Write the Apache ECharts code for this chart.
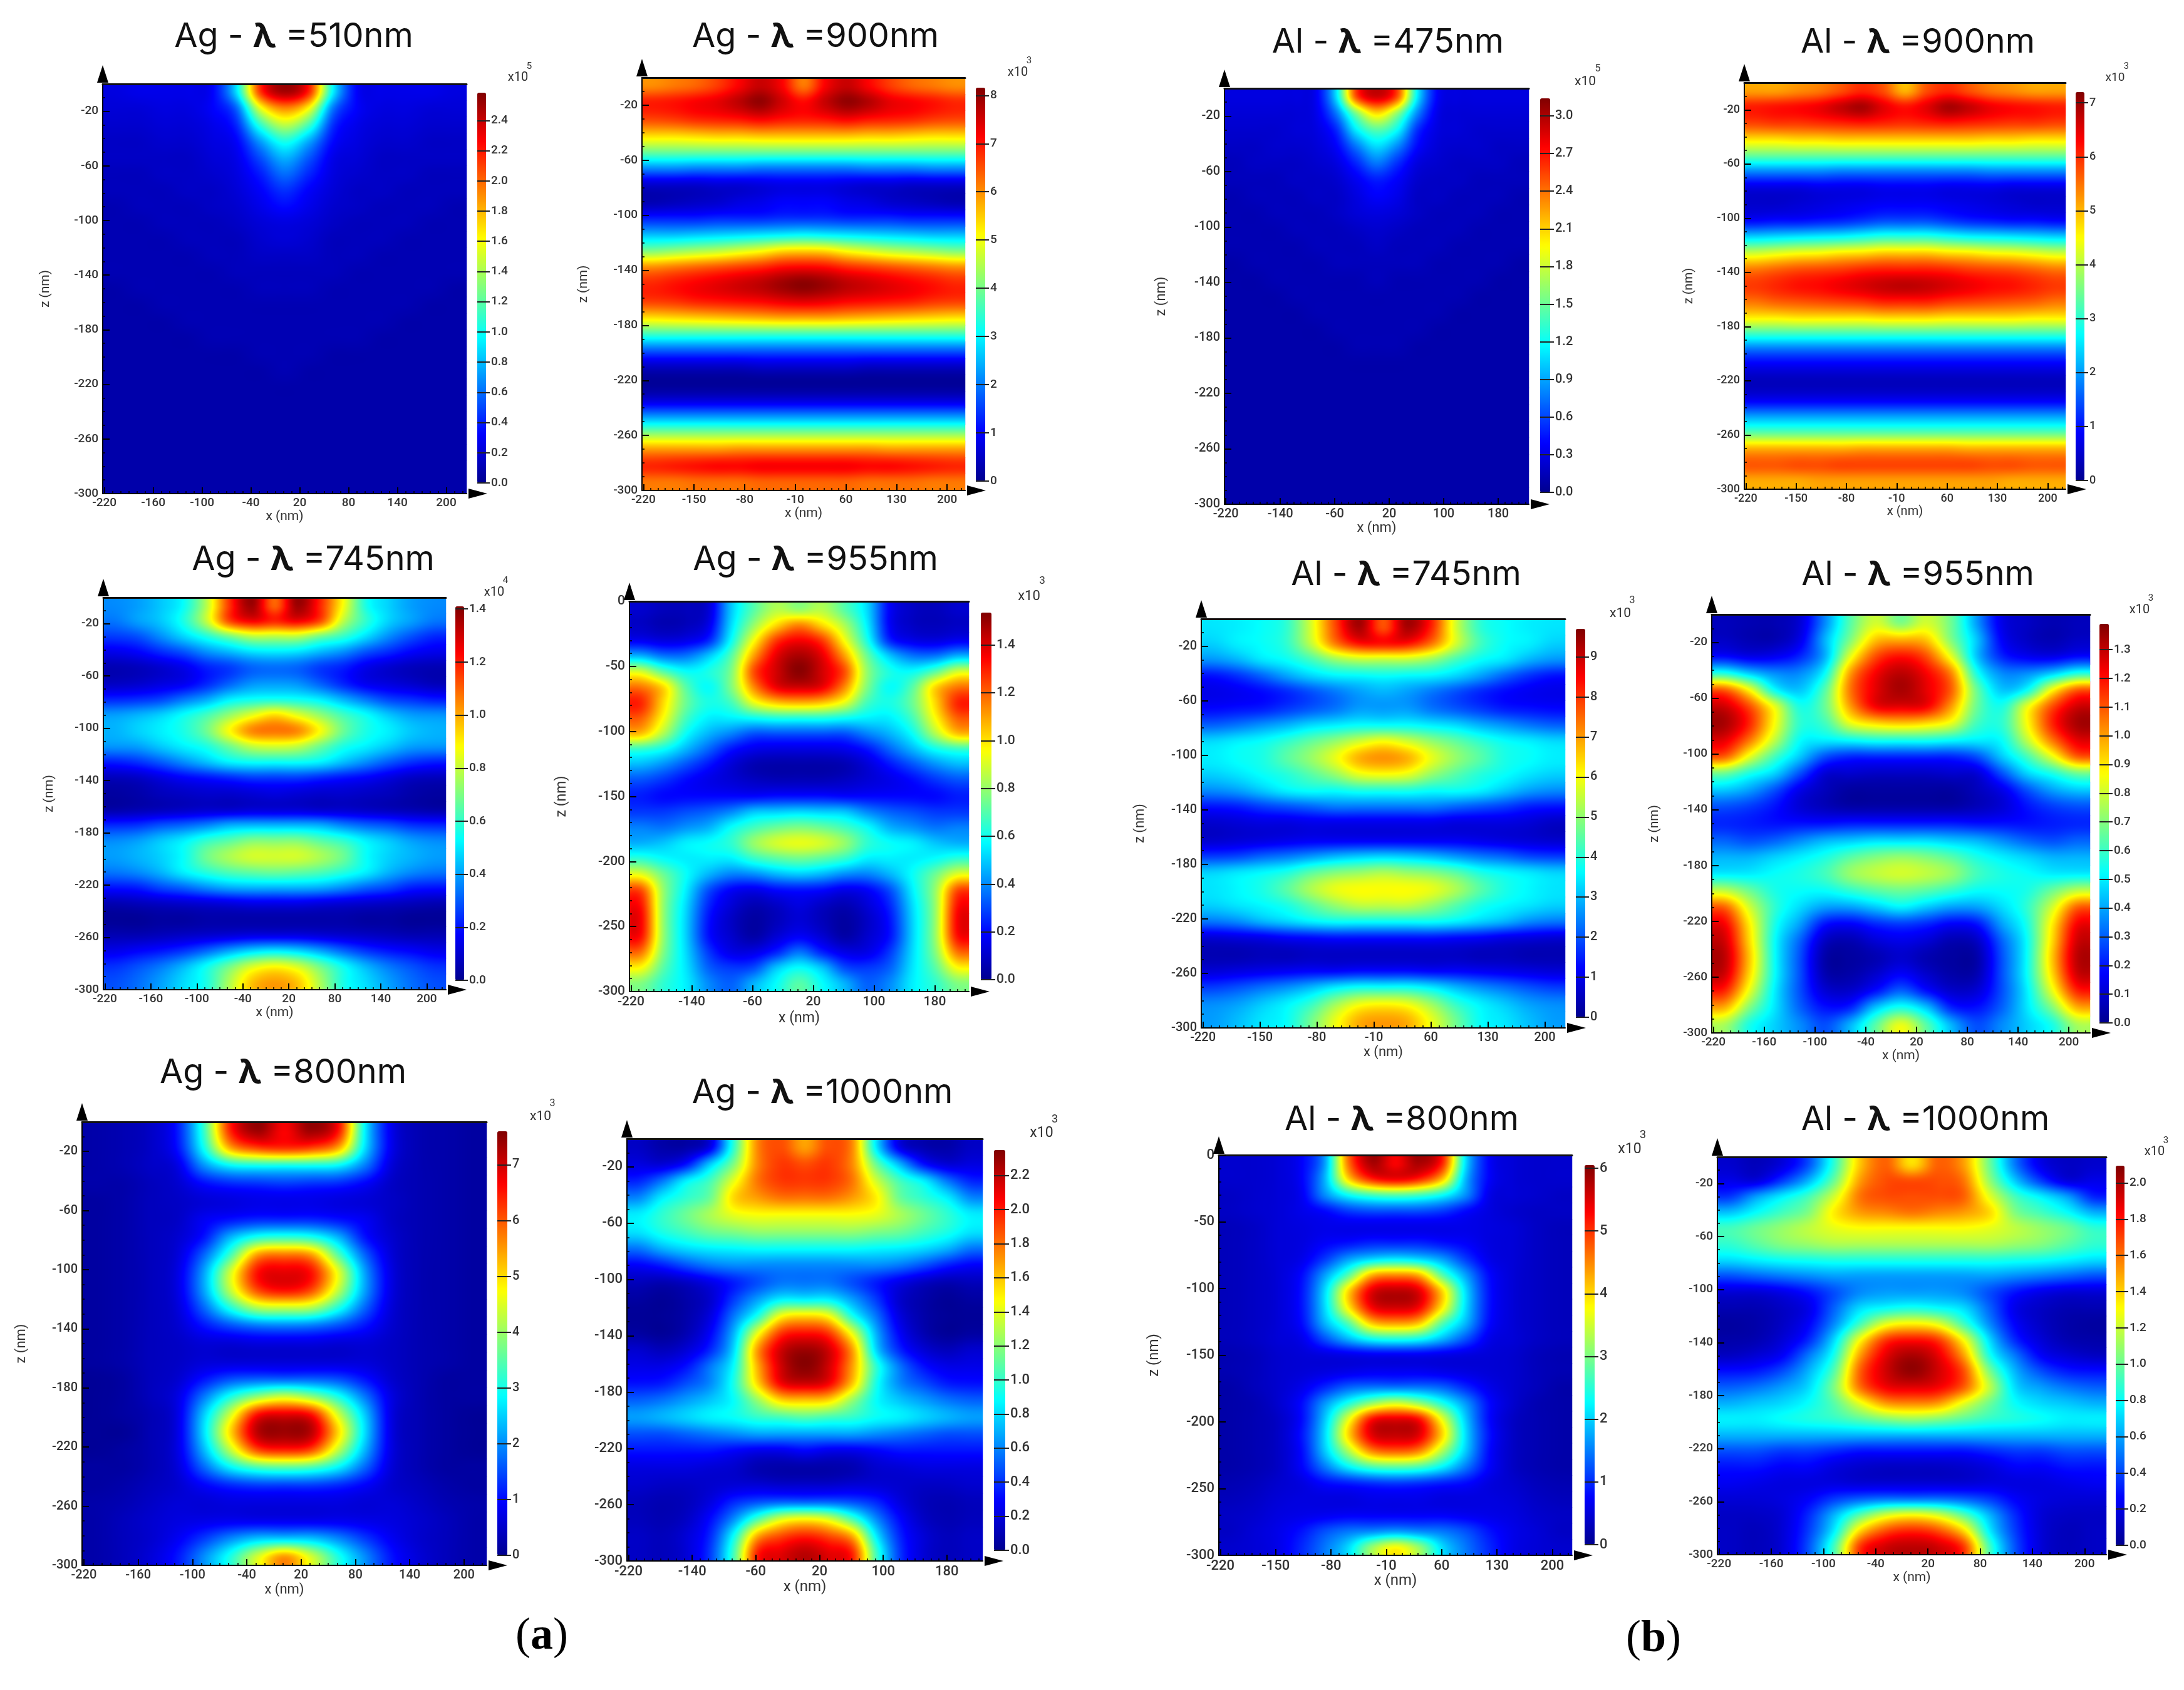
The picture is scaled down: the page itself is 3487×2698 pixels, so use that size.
<!DOCTYPE html>
<html><head><meta charset="utf-8">
<style>html,body{margin:0;padding:0;background:#fff}#c{width:3487px;height:2698px}</style>
<script src="https://cdn.jsdelivr.net/npm/echarts@6/dist/echarts.min.js"></script>
</head><body><div id="c"></div>
<script>
// Field values: percent of each panel's colour-scale top, 15 columns by 25 rows (top row first)
const xCells=['-207','-177','-147','-118','-88','-58','-28','1.5','31','61','91','121','150','180','210'];
const zCells=['-6','-18','-30','-42','-54','-66','-78','-90','-102','-114','-126','-138','-150','-162','-174','-186','-198','-210','-222','-234','-246','-258','-270','-282','-294'];
const ag510=[[9,10,10,10,12,34,82,96,84,36,12,10,10,10,9],[8,8,9,9,12,22,60,74,62,24,12,9,9,8,8],[7,7,8,8,10,16,42,56,44,17,10,8,8,7,7],[6,6,7,7,9,12,28,40,29,13,9,7,7,6,6],[6,6,6,6,8,10,20,30,21,10,8,6,6,6,6],[5,5,6,6,7,9,15,23,16,9,7,6,6,5,5],[5,5,5,6,6,8,12,17,12,8,6,6,5,5,5],[4,5,5,5,6,7,10,13,10,7,6,5,5,5,4],[4,4,5,5,5,6,8,9,8,6,5,5,5,4,4],[4,4,4,5,5,5,7,8,7,5,5,5,4,4,4],[4,4,4,4,5,5,6,6,6,5,5,4,4,4,4],[4,4,4,4,4,5,5,5,5,5,4,4,4,4,4],[3,4,4,4,4,4,5,5,5,4,4,4,4,4,3],[3,3,4,4,4,4,4,4,4,4,4,4,4,3,3],[3,3,3,4,4,4,4,4,4,4,4,4,3,3,3],[3,3,3,3,4,4,4,4,4,4,4,3,3,3,3],[3,3,3,3,3,3,4,4,4,3,3,3,3,3,3],[3,3,3,3,3,3,3,4,3,3,3,3,3,3,3],[3,3,3,3,3,3,3,3,3,3,3,3,3,3,3],[3,3,3,3,3,3,3,3,3,3,3,3,3,3,3],[3,3,3,3,3,3,3,3,3,3,3,3,3,3,3],[3,3,3,3,3,3,3,3,3,3,3,3,3,3,3],[3,3,3,3,3,3,3,3,3,3,3,3,3,3,3],[3,3,3,3,3,3,3,3,3,3,3,3,3,3,3],[3,3,3,3,3,3,3,3,3,3,3,3,3,3,3]];
const ag900=[[74,76,78,82,88,93,88,76,88,93,88,82,78,76,74],[85,86,88,90,94,98,92,87,93,98,95,90,88,86,84],[81,82,84,85,86,88,86,85,86,88,86,85,84,82,81],[66,66,67,68,68,69,69,69,69,69,68,68,67,66,66],[48,48,48,48,48,48,48,48,48,48,48,48,48,48,48],[26,26,25,25,25,24,24,24,24,24,25,25,25,26,26],[7,7,7,8,8,9,10,10,10,9,8,8,7,7,7],[4,5,6,7,9,10,12,12,12,10,9,7,6,5,4],[15,15,15,16,16,16,17,17,17,16,16,16,15,15,15],[31,31,32,33,34,35,36,37,36,35,34,33,32,31,31],[50,52,54,56,59,62,66,67,66,62,59,56,54,52,50],[74,76,78,80,82,84,87,88,87,84,82,80,78,76,74],[84,86,88,90,92,94,97,99,97,94,92,90,88,86,84],[82,83,85,86,87,88,90,91,90,88,87,86,85,83,82],[66,67,68,69,70,71,72,72,72,71,70,69,68,67,66],[44,44,44,44,44,44,44,44,44,44,44,44,44,44,44],[22,22,22,22,22,22,22,22,22,22,22,22,22,22,22],[6,6,6,6,6,7,7,7,7,7,6,6,6,6,6],[1,1,1,1,1,1,1,1,1,1,1,1,1,1,1],[8,8,8,8,8,8,8,8,8,8,8,8,8,8,8],[27,27,27,27,27,27,27,27,27,27,27,27,27,27,27],[50,50,50,50,50,50,50,50,50,50,50,50,50,50,50],[72,72,72,72,73,73,73,73,73,73,73,72,72,72,72],[84,85,86,87,87,88,88,88,88,88,87,87,86,85,84],[76,76,77,77,77,78,78,78,78,78,77,77,77,76,76]];
const al475=[[9,9,9,9,11,34,80,92,80,36,12,9,9,9,9],[8,8,8,8,10,24,50,66,52,26,10,8,8,8,8],[7,7,7,8,9,16,36,46,38,17,9,8,7,7,7],[6,6,7,7,8,12,24,34,26,13,8,7,7,6,6],[5,6,6,6,7,9,16,24,17,9,7,6,6,6,5],[5,5,5,6,6,7,11,15,12,7,6,6,5,5,5],[4,5,5,5,6,6,9,12,10,6,6,5,5,5,4],[4,4,5,5,5,6,8,9,8,6,5,5,5,4,4],[4,4,4,5,5,5,6,7,6,5,5,5,4,4,4],[4,4,4,4,5,5,5,6,5,5,5,4,4,4,4],[3,4,4,4,4,5,5,5,5,5,4,4,4,4,3],[3,3,4,4,4,4,4,5,4,4,4,4,4,3,3],[3,3,3,4,4,4,4,4,4,4,4,4,3,3,3],[3,3,3,3,4,4,4,4,4,4,4,3,3,3,3],[3,3,3,3,3,4,4,4,4,4,3,3,3,3,3],[3,3,3,3,3,3,4,4,4,3,3,3,3,3,3],[3,3,3,3,3,3,3,3,3,3,3,3,3,3,3],[3,3,3,3,3,3,3,3,3,3,3,3,3,3,3],[3,3,3,3,3,3,3,3,3,3,3,3,3,3,3],[3,3,3,3,3,3,3,3,3,3,3,3,3,3,3],[3,3,3,3,3,3,3,3,3,3,3,3,3,3,3],[3,3,3,3,3,3,3,3,3,3,3,3,3,3,3],[3,3,3,3,3,3,3,3,3,3,3,3,3,3,3],[3,3,3,3,3,3,3,3,3,3,3,3,3,3,3],[3,3,3,3,3,3,3,3,3,3,3,3,3,3,3]];
const al900=[[72,72,74,76,80,84,80,70,80,84,80,76,74,72,72],[85,86,87,89,93,96,90,86,90,96,93,89,87,86,85],[81,82,82,83,84,85,84,83,84,85,84,83,82,82,81],[65,65,66,66,67,67,67,67,67,67,67,66,66,65,65],[47,47,47,47,47,47,47,47,47,47,47,47,47,47,47],[25,25,25,25,24,24,24,24,24,24,24,25,25,25,25],[9,9,9,10,10,10,11,11,11,10,10,10,9,9,9],[7,7,8,9,10,11,12,12,12,11,10,9,8,7,7],[13,14,14,15,16,18,20,20,20,18,16,15,14,14,13],[34,35,36,37,38,40,42,42,42,40,38,37,36,35,34],[58,60,62,63,65,66,68,68,68,66,65,63,62,60,58],[76,78,80,81,82,84,85,85,85,84,82,81,80,78,76],[82,84,86,87,89,91,93,94,93,91,89,87,86,84,82],[76,78,79,80,81,82,84,84,84,82,81,80,79,78,76],[63,63,64,64,64,64,65,65,65,64,64,64,64,63,63],[42,42,42,42,42,42,42,42,42,42,42,42,42,42,42],[22,22,22,22,22,22,22,22,22,22,22,22,22,22,22],[10,10,10,10,10,10,10,10,10,10,10,10,10,10,10],[5,5,5,5,5,5,5,5,5,5,5,5,5,5,5],[11,11,11,11,11,11,11,11,11,11,11,11,11,11,11],[28,28,28,28,28,28,28,28,28,28,28,28,28,28,28],[46,46,46,46,46,46,46,46,46,46,46,46,46,46,46],[70,70,70,70,70,71,71,71,71,71,70,70,70,70,70],[79,79,80,80,81,81,81,81,81,81,81,80,80,79,79],[71,71,71,72,72,72,72,72,72,72,72,72,71,71,71]];
const ag745=[[26,28,32,38,55,82,97,78,97,84,62,40,33,28,26],[24,28,32,40,56,80,88,84,88,80,56,42,33,28,24],[18,20,26,33,40,48,55,55,55,48,42,34,26,20,16],[10,12,16,20,26,30,34,35,34,30,26,20,16,12,10],[4,5,7,10,15,18,22,23,22,18,15,10,7,5,4],[6,7,9,11,16,22,27,28,27,22,16,11,9,7,5],[16,17,19,24,29,36,39,40,39,36,30,24,19,17,15],[28,30,33,38,44,52,60,66,60,52,44,38,32,28,27],[30,33,36,40,48,62,74,76,74,62,48,40,36,32,30],[27,28,32,36,40,48,56,58,56,48,40,36,32,28,27],[15,17,21,26,31,36,38,38,38,36,31,26,21,17,15],[5,6,9,12,14,16,18,18,18,16,14,12,9,6,5],[2,3,5,6,7,7,8,9,8,7,7,6,5,3,2],[3,4,5,6,7,7,8,8,8,7,7,6,5,4,3],[16,17,20,22,25,29,30,30,30,29,25,22,20,17,16],[26,28,32,36,42,46,50,50,50,46,42,36,32,28,26],[28,30,33,38,48,54,58,58,58,54,48,38,33,30,28],[24,26,30,36,41,45,47,48,47,45,41,36,30,26,24],[14,15,19,22,26,29,30,30,30,29,26,22,19,15,14],[4,5,6,7,8,9,10,10,10,9,8,7,6,5,4],[1,1,2,2,3,3,3,3,3,3,3,2,2,1,1],[4,4,5,6,7,8,9,9,9,8,7,6,5,4,4],[10,12,14,17,22,28,33,35,33,28,22,17,14,12,10],[17,20,24,30,38,48,58,62,58,48,38,30,24,20,17],[20,23,28,34,40,54,68,72,68,54,40,34,28,23,20]];
const ag955=[[7,5,5,8,32,46,55,52,55,46,34,12,6,5,7],[6,4,5,10,34,52,66,74,66,54,36,12,6,5,6],[11,9,10,16,38,62,82,88,82,62,40,16,10,9,11],[30,24,24,32,46,72,90,96,90,72,48,32,24,24,30],[58,46,38,40,50,80,92,99,92,80,52,40,38,46,58],[76,66,46,38,50,74,89,92,89,74,50,38,46,66,76],[84,66,48,40,44,60,68,70,68,60,44,40,48,66,84],[78,62,44,36,36,38,40,40,40,38,36,36,44,62,78],[68,54,38,30,25,20,20,20,20,20,25,30,38,54,68],[42,38,30,22,14,10,9,9,9,10,14,22,30,38,42],[30,26,20,14,8,4,3,3,3,4,8,14,20,26,30],[20,17,13,10,8,6,5,5,5,6,8,10,13,17,20],[15,13,13,13,13,13,14,14,14,13,13,13,13,13,15],[18,18,20,22,26,32,33,34,33,32,26,22,20,18,18],[25,24,27,30,38,44,48,50,48,44,38,30,27,24,25],[30,32,36,38,42,52,58,60,58,52,42,38,36,32,30],[42,38,36,36,36,42,46,48,46,42,36,36,36,38,42],[60,48,38,30,25,26,30,32,30,26,25,30,38,48,60],[80,52,36,20,12,10,13,14,13,10,12,20,36,52,80],[86,52,34,16,8,4,6,9,6,4,8,16,34,52,86],[88,52,33,14,6,2,5,8,5,2,6,14,33,52,88],[86,52,33,14,7,3,8,12,8,3,7,14,33,52,86],[76,50,34,18,10,10,16,24,16,10,10,18,34,50,76],[62,46,35,22,18,20,32,38,32,20,18,22,35,46,62],[50,42,36,26,22,30,38,46,38,30,22,26,36,42,50]];
const al745=[[35,36,38,42,58,80,96,80,96,84,58,42,38,36,35],[33,36,38,42,56,75,86,86,86,76,58,44,38,36,33],[27,30,35,38,44,52,56,56,56,52,44,38,35,30,27],[14,17,22,28,33,36,37,38,37,36,33,28,22,17,14],[10,11,13,16,20,24,28,30,28,24,20,16,13,11,10],[13,14,15,18,21,24,28,28,28,24,21,18,15,14,13],[22,24,27,30,34,36,38,38,38,36,34,30,27,24,22],[34,36,38,42,47,52,58,62,58,52,47,42,38,36,34],[36,38,40,46,52,60,70,73,70,60,52,46,40,38,36],[33,35,38,41,46,52,60,62,60,52,46,41,38,35,33],[26,28,32,36,38,38,40,40,40,38,38,36,32,28,26],[14,15,18,20,22,24,24,24,24,24,22,20,18,15,14],[7,8,9,9,10,10,10,10,10,10,9,9,9,8,6],[7,8,9,10,11,11,11,11,11,11,11,10,9,8,7],[18,19,22,24,27,30,32,33,32,30,27,24,22,19,18],[33,35,37,40,46,50,52,54,52,50,46,40,37,35,33],[35,37,40,46,54,60,62,62,62,60,54,46,40,37,35],[33,35,37,40,46,52,56,56,56,52,46,40,37,35,33],[24,26,30,33,36,38,38,38,38,38,36,33,30,26,24],[8,9,10,12,13,14,14,14,14,14,13,12,10,9,8],[4,4,5,5,6,6,6,6,6,6,6,5,5,4,4],[8,9,10,11,12,12,13,13,13,12,12,11,10,9,8],[18,20,23,26,30,35,38,38,38,35,30,26,23,20,18],[26,28,32,36,42,52,60,62,60,52,42,36,32,28,26],[28,31,35,38,48,60,70,72,70,60,48,38,35,31,28]];
const al955=[[5,4,4,8,26,46,58,50,58,48,28,10,6,4,5],[6,4,4,10,30,50,68,70,68,50,32,12,6,4,6],[13,10,11,16,30,60,80,86,80,60,32,16,11,10,13],[40,32,26,26,38,72,88,94,88,74,40,26,26,32,40],[78,62,38,32,46,76,90,96,90,78,48,32,38,62,78],[92,80,60,40,48,72,88,90,88,72,48,40,60,80,92],[96,84,62,42,44,60,66,68,66,60,44,42,62,84,96],[90,76,56,38,36,38,40,40,40,38,36,38,56,76,90],[78,60,44,32,20,16,16,16,16,16,20,32,44,60,78],[48,40,33,20,8,7,6,6,6,7,8,20,33,40,48],[32,28,20,10,5,2,2,2,2,2,5,10,20,28,32],[20,18,14,8,5,3,3,3,3,3,5,8,14,18,20],[16,15,14,14,14,15,15,15,15,15,14,14,14,15,16],[22,20,22,26,30,32,34,34,34,32,30,26,22,20,22],[30,30,33,36,40,46,50,52,50,46,40,36,33,30,30],[36,36,38,40,44,52,56,58,56,52,44,40,38,36,36],[56,48,40,38,38,42,46,48,46,42,38,38,40,48,56],[78,58,42,34,28,28,32,36,32,28,28,34,42,58,78],[88,64,40,28,14,12,16,18,16,12,14,28,40,64,88],[92,66,38,22,6,4,8,10,8,4,6,22,38,66,92],[94,68,38,20,3,2,4,7,4,2,3,20,38,68,94],[92,66,38,20,4,3,7,12,7,3,4,20,38,66,92],[84,60,36,20,8,7,14,22,14,7,8,20,36,60,84],[70,50,35,22,14,16,32,40,32,16,14,22,35,50,70],[54,40,33,26,20,30,46,60,46,30,20,26,33,40,54]];
const ag800=[[3,4,6,14,42,84,97,88,97,86,36,10,4,3,2],[3,4,6,13,38,70,80,82,80,70,34,10,4,3,2],[3,4,6,9,26,36,38,38,38,36,24,8,4,3,2],[3,3,5,7,13,16,17,18,17,16,12,6,4,3,2],[2,3,5,6,8,9,10,10,10,9,8,6,4,3,2],[2,3,5,6,11,14,16,16,16,14,11,6,4,3,2],[2,3,5,7,14,30,40,42,40,30,14,7,4,3,2],[2,3,5,8,22,44,72,76,72,46,22,8,4,3,2],[2,3,5,9,28,58,86,90,86,60,28,9,4,3,2],[2,3,5,9,28,56,80,86,80,56,28,9,4,3,2],[2,3,5,8,22,40,54,56,54,40,22,8,4,3,2],[2,3,5,7,14,20,24,25,24,20,14,7,4,3,2],[2,3,5,6,8,8,9,9,9,8,8,6,4,3,2],[2,3,5,6,8,8,8,8,8,8,8,6,4,3,2],[1,2,5,7,14,20,22,22,22,20,14,7,4,2,2],[1,2,5,9,24,40,52,58,52,40,24,9,4,2,2],[1,2,4,9,32,58,86,90,86,58,32,9,4,2,1],[1,1,4,9,34,66,94,97,94,66,34,9,4,2,1],[1,2,4,9,30,56,80,84,80,56,30,9,4,2,1],[2,2,4,8,22,36,44,46,44,36,22,8,4,2,2],[2,3,5,7,12,16,18,18,18,16,12,7,5,3,2],[3,4,6,8,8,9,9,9,9,9,8,8,6,4,3],[3,5,7,9,10,11,11,11,11,11,10,9,7,5,3],[3,5,7,11,18,26,32,33,32,26,18,11,7,5,3],[3,5,8,14,26,40,58,72,58,40,26,14,8,5,3]];
const ag1000=[[6,3,3,10,42,74,80,72,80,74,36,10,4,3,6],[9,8,14,32,50,74,82,80,82,74,48,30,14,8,9],[16,24,36,44,60,76,82,82,82,76,58,44,36,24,16],[26,36,42,48,66,72,76,76,76,72,64,48,42,36,26],[36,42,48,54,60,62,62,62,62,62,60,54,48,42,36],[35,40,44,48,50,52,52,52,52,52,50,48,44,40,35],[24,30,34,36,37,38,38,38,38,38,37,36,34,30,24],[12,15,20,24,26,26,26,26,26,26,26,24,20,15,12],[5,4,6,10,15,20,24,24,24,20,15,10,6,4,5],[2,1,3,7,18,28,36,36,36,28,18,7,3,1,2],[1,1,3,9,24,40,62,66,62,40,24,9,3,1,1],[2,1,4,12,30,60,82,86,82,60,30,12,4,1,2],[7,5,8,16,34,72,92,97,92,72,34,16,8,5,7],[10,10,14,24,38,70,92,99,92,72,42,24,14,10,10],[14,15,20,26,40,66,88,92,88,68,40,26,20,15,14],[22,24,28,32,38,52,66,68,66,52,38,32,28,24,22],[28,30,33,36,38,42,44,46,44,42,38,36,33,30,28],[20,20,22,24,26,28,28,28,28,28,26,24,22,20,20],[14,14,14,14,12,10,10,12,10,10,12,14,14,14,14],[9,9,9,8,7,4,3,3,3,4,7,8,9,9,9],[7,6,6,7,8,8,7,7,7,8,8,7,6,6,7],[5,4,5,9,16,20,22,22,22,20,16,9,5,4,5],[5,4,6,13,26,44,58,62,58,44,26,13,6,4,5],[6,5,8,16,38,70,80,84,80,70,36,16,8,5,6],[6,5,8,18,44,84,90,94,90,84,44,18,8,5,6]];
const al800=[[7,7,8,12,28,76,96,88,96,84,34,12,8,7,7],[7,7,8,12,30,66,84,88,84,68,30,12,8,7,7],[6,7,8,11,26,38,44,46,44,38,26,10,8,7,6],[6,7,8,10,13,18,20,20,20,18,13,9,7,6,6],[5,6,8,9,10,10,10,10,10,10,10,9,8,6,5],[5,6,8,9,12,14,16,16,16,14,12,9,8,6,5],[5,6,8,10,18,28,34,36,34,28,18,10,8,6,5],[5,6,8,13,28,46,70,74,70,46,28,13,8,6,5],[5,6,8,14,34,66,90,94,90,66,34,14,8,6,5],[5,6,8,14,34,64,88,92,88,64,34,14,8,6,5],[5,6,8,13,30,46,68,72,68,46,30,13,8,6,5],[5,6,8,10,20,30,38,40,38,30,20,10,8,6,5],[4,5,7,8,9,10,11,11,11,10,9,8,7,5,4],[4,5,7,8,9,10,11,11,11,10,9,8,7,5,4],[3,5,7,10,16,22,24,24,24,22,16,10,7,5,3],[3,4,7,13,27,40,52,58,52,40,27,13,7,4,3],[3,4,6,13,32,60,86,90,86,60,32,13,6,4,3],[3,4,6,14,34,66,90,93,90,66,34,14,6,4,3],[3,4,6,13,32,54,74,78,74,54,32,13,6,4,3],[3,4,6,12,24,36,44,46,44,36,24,12,6,4,3],[4,5,7,9,13,15,17,18,17,15,13,9,7,5,4],[5,6,8,9,9,9,10,10,10,9,9,9,8,6,5],[6,7,9,10,11,12,12,12,12,12,11,10,9,7,6],[6,8,10,14,20,24,26,28,26,24,20,14,10,8,6],[7,8,10,16,24,34,52,62,52,34,24,16,10,8,7]];
const al1000=[[7,5,9,20,42,68,78,66,78,72,48,24,10,6,7],[10,9,18,30,48,72,80,80,80,76,52,32,18,9,10],[18,28,36,44,58,76,80,80,80,78,60,44,36,28,16],[32,38,44,50,64,72,74,76,74,72,66,50,44,38,30],[44,48,52,56,60,62,62,62,62,62,60,56,52,48,42],[42,46,50,52,54,54,54,54,54,54,54,52,50,46,42],[34,36,38,39,40,40,40,40,40,40,40,39,38,36,34],[20,22,24,26,28,28,28,28,28,28,28,26,24,22,20],[8,8,10,14,20,26,28,28,28,26,20,14,10,8,8],[4,4,6,10,22,34,38,40,38,34,22,10,6,4,4],[2,3,6,12,26,44,60,64,60,44,26,12,6,3,2],[3,4,8,16,34,62,82,86,82,62,34,16,8,4,3],[6,8,12,24,40,72,90,96,90,72,40,24,12,8,6],[14,15,20,30,46,78,92,98,92,80,50,30,20,15,14],[22,24,28,34,50,76,88,90,88,78,56,34,28,24,22],[30,32,34,38,46,60,72,74,72,60,48,38,34,32,30],[36,36,38,40,42,46,50,52,50,46,42,40,38,36,36],[30,30,30,30,30,30,30,30,30,30,30,30,30,30,30],[20,20,18,18,16,14,14,14,14,14,16,18,18,20,20],[14,14,12,12,9,7,6,6,6,7,9,12,12,14,14],[11,10,9,9,9,8,8,8,8,8,9,9,9,10,11],[8,8,9,12,18,22,24,24,24,22,18,12,9,8,8],[6,6,8,16,30,46,58,62,58,46,30,16,8,6,6],[6,5,8,18,36,66,80,84,80,66,36,18,8,5,6],[6,5,8,20,44,82,92,94,92,82,44,20,8,5,6]];
// Tick labels
const x60=[-220,-160,-100,-40,20,80,140,200], x70=[-220,-150,-80,-10,60,130,200], x80=[-220,-140,-60,20,100,180];
const z40=[-20,-60,-100,-140,-180,-220,-260,-300], z50=[0,-50,-100,-150,-200,-250,-300];
const cbAg510=[0,.2,.4,.6,.8,1,1.2,1.4,1.6,1.8,2,2.2,2.4], cbAg900=[0,1,2,3,4,5,6,7,8], cbAl475=[0,.3,.6,.9,1.2,1.5,1.8,2.1,2.4,2.7,3], cbAl900=[0,1,2,3,4,5,6,7];
const cbAg745=[0,.2,.4,.6,.8,1,1.2,1.4], cbAg955=[0,.2,.4,.6,.8,1,1.2,1.4], cbAl745=[0,1,2,3,4,5,6,7,8,9], cbAl955=[0,.1,.2,.3,.4,.5,.6,.7,.8,.9,1,1.1,1.2,1.3];
const cbAg800=[0,1,2,3,4,5,6,7], cbAg1000=[0,.2,.4,.6,.8,1,1.2,1.4,1.6,1.8,2,2.2], cbAl800=[0,1,2,3,4,5,6], cbAl1000=[0,.2,.4,.6,.8,1,1.2,1.4,1.6,1.8,2];

const JET=['#00008f','#0000ff','#0080ff','#00ffff','#80ff80','#ffff00','#ff8000','#ff0000','#800000'];
const X_RANGE=[-222,225], Z_RANGE=[-300,0];
const panels=[
{m:'Ag',w:'510',d:ag510,top:2.584,e:5,cb:cbAg510,dec:1,xt:x60,zt:z40,box:[164,134,745,788],bar:[762,776,148,771],ti:[469,59],un:[827,124,845,106],yg:91,xg:36,fs:19},
{m:'Ag',w:'900',d:ag900,top:8.16,e:3,cb:cbAg900,dec:0,xt:x70,zt:z40,box:[1025,124,1541,783],bar:[1558,1573,140,768],ti:[1302,59],un:[1625,116,1643,97],yg:93,xg:36,fs:19},
{m:'Al',w:'475',d:al475,top:3.14,e:5,cb:cbAl475,dec:1,xt:x80,zt:z40,box:[1955,141,2441,805],bar:[2459,2475,157,786],ti:[2216,68],un:[2531,131,2551,110],yg:101,xg:38,fs:20},
{m:'Al',w:'900',d:al900,top:7.2,e:3,cb:cbAl900,dec:0,xt:x70,zt:z40,box:[2785,132,3298,781],bar:[3314,3328,147,767],ti:[3062,68],un:[3377,124,3395,106],yg:88,xg:36,fs:18},
{m:'Ag',w:'745',d:ag745,top:1.41,e:4,cb:cbAg745,dec:1,xt:x60,zt:z40,box:[165,954,712,1580],bar:[727,741,968,1565],ti:[500,894],un:[789,946,807,927],yg:86,xg:35,fs:19},
{m:'Ag',w:'955',d:ag955,top:1.536,e:3,cb:cbAg955,dec:1,xt:x80,zt:z50,box:[1005,960,1547,1583],bar:[1566,1583,978,1564],ti:[1302,894],un:[1643,952,1664,928],yg:108,xg:43,fs:21},
{m:'Al',w:'745',d:al745,top:9.7,e:3,cb:cbAl745,dec:0,xt:x70,zt:z40,box:[1918,988,2499,1641],bar:[2516,2531,1004,1624],ti:[2245,918],un:[2587,980,2606,959],yg:98,xg:39,fs:20},
{m:'Al',w:'955',d:al955,top:1.39,e:3,cb:cbAl955,dec:1,xt:x60,zt:z40,box:[2733,981,3337,1649],bar:[3352,3367,996,1633],ti:[3062,918],un:[3416,974,3434,955],yg:91,xg:36,fs:19},
{m:'Ag',w:'800',d:ag800,top:7.6,e:3,cb:cbAg800,dec:0,xt:x60,zt:z40,box:[131,1791,777,2499],bar:[794,810,1806,2483],ti:[452,1713],un:[863,1783,882,1762],yg:97,xg:39,fs:20},
{m:'Ag',w:'1000',d:ag1000,top:2.35,e:3,cb:cbAg1000,dec:1,xt:x80,zt:z40,box:[1001,1818,1569,2492],bar:[1587,1605,1836,2475],ti:[1313,1745],un:[1663,1809,1684,1787],yg:0,xg:42,fs:22},
{m:'Al',w:'800',d:al800,top:6.05,e:3,cb:cbAl800,dec:0,xt:x70,zt:z50,box:[1946,1844,2510,2483],bar:[2530,2546,1860,2466],ti:[2238,1788],un:[2602,1835,2623,1812],yg:103,xg:41,fs:22},
{m:'Al',w:'1000',d:al1000,top:2.095,e:3,cb:cbAl1000,dec:1,xt:x60,zt:z40,box:[2742,1847,3363,2482],bar:[3378,3392,1861,2467],ti:[3074,1788],un:[3440,1839,3458,1821],yg:0,xg:35,fs:19}
];
const FONT='Roboto', TXT='#333', TFS=54;
const BLACK={color:'#000',width:2};
const grids=[],xAxes=[],yAxes=[],series=[],vms=[],titles=[];
function minorTicks(lo,hi){const o=[];for(let v=-220;v<=hi;v+=10) if(v>=lo) o.push(v);return o;}
function zMinor(){const o=[];for(let v=-300;v<=0;v+=10) o.push(v);return o;}

panels.forEach((p,i)=>{
  const [L,T,R,B]=p.box, gi=grids.length;
  grids.push({left:L,top:T,width:R-L,height:B-T,zlevel:1});
  const xi=xAxes.length, yi=yAxes.length;
  // band axes that place the cells; the x one also draws the plot's top edge
  xAxes.push({type:'category',gridIndex:gi,data:xCells,position:'top',zlevel:1,z:10,axisLine:{show:true,onZero:false,lineStyle:{color:'#111',width:3}},axisTick:{show:false},axisLabel:{show:false}});
  yAxes.push({type:'category',gridIndex:gi,data:zCells,inverse:true,show:false});
  // labelled value axes
  xAxes.push({type:'value',gridIndex:gi,min:X_RANGE[0],max:X_RANGE[1],position:'bottom',zlevel:1,z:10,splitLine:{show:false},
    name:'x (nm)',nameLocation:'middle',nameGap:p.xg,nameTextStyle:{fontFamily:FONT,fontSize:p.fs+2,color:TXT,verticalAlign:'middle'},
    axisLine:{show:true,onZero:false,lineStyle:BLACK,symbol:['none','triangle'],symbolSize:[16,30],symbolOffset:[0,18]},
    axisTick:{show:true,inside:true,length:10,lineStyle:BLACK,customValues:p.xt},
    axisLabel:{show:true,margin:6,customValues:p.xt,fontFamily:FONT,fontWeight:500,fontSize:p.fs,color:TXT,hideOverlap:false}});
  yAxes.push({type:'value',gridIndex:gi,min:Z_RANGE[0],max:Z_RANGE[1],position:'left',zlevel:1,z:10,splitLine:{show:false},
    name:p.yg?'z (nm)':'',nameLocation:'middle',nameGap:p.yg,nameRotate:90,nameTextStyle:{fontFamily:FONT,fontSize:p.fs+2,color:TXT,verticalAlign:'middle'},
    axisLine:{show:true,onZero:false,lineStyle:BLACK,symbol:['none','triangle'],symbolSize:[18,28],symbolOffset:[0,16]},
    axisTick:{show:true,inside:true,length:11,lineStyle:BLACK,customValues:p.zt},
    axisLabel:{show:true,margin:7,customValues:p.zt,fontFamily:FONT,fontWeight:500,fontSize:p.fs,color:TXT,hideOverlap:false}});
  // small tick marks
  xAxes.push({type:'value',gridIndex:gi,min:X_RANGE[0],max:X_RANGE[1],position:'bottom',zlevel:1,z:9,splitLine:{show:false},axisLine:{show:false,onZero:false},
    axisTick:{show:true,inside:true,length:4,lineStyle:{color:'#000',width:1.5},customValues:minorTicks(-222,225)},axisLabel:{show:false}});
  yAxes.push({type:'value',gridIndex:gi,min:Z_RANGE[0],max:Z_RANGE[1],position:'left',zlevel:1,z:9,splitLine:{show:false},axisLine:{show:false,onZero:false},
    axisTick:{show:true,inside:true,length:4,lineStyle:{color:'#000',width:1.5},customValues:zMinor()},axisLabel:{show:false}});
  // the field itself
  const cells=[];
  p.d.forEach((row,r)=>row.forEach((pct,c)=>cells.push([c,r,pct*p.top/100])));
  series.push({type:'heatmap',xAxisIndex:xi,yAxisIndex:yi,data:cells,progressive:0,silent:true,zlevel:0,z:2,animation:false,emphasis:{disabled:true}});
  // colour scale
  const [bx0,bx1,by0,by1]=p.bar;
  vms.push({type:'continuous',seriesIndex:i,dimension:2,min:0,max:p.top,show:true,calculable:false,hoverLink:false,realtime:false,
    left:bx0,top:by0,itemWidth:bx1-bx0,itemHeight:by1-by0,padding:0,text:null,showLabel:false,zlevel:1,z:4,inRange:{color:JET}});
  const ci=grids.length;
  grids.push({left:bx0,top:by0,width:bx1-bx0+6,height:by1-by0,zlevel:1});
  xAxes.push({type:'category',gridIndex:ci,data:[''],show:false});
  yAxes.push({type:'value',gridIndex:ci,min:0,max:p.top,position:'right',zlevel:1,z:10,splitLine:{show:false},axisLine:{show:false,onZero:false},
    axisTick:{show:true,inside:true,length:bx1-bx0+6,lineStyle:{color:'#222',width:2},customValues:p.cb},
    axisLabel:{show:true,margin:2,customValues:p.cb,fontFamily:FONT,fontWeight:500,fontSize:p.fs,color:TXT,hideOverlap:false,formatter:v=>(+v).toFixed(p.dec)}});
  // texts
  titles.push({text:'{t|'+p.m+' - }{l|λ}{t| ='+p.w+'nm}',left:p.ti[0],top:p.ti[1],textAlign:'center',textVerticalAlign:'middle',padding:0,zlevel:1,
    textStyle:{rich:{t:{fontFamily:'Inter',fontWeight:'normal',fontSize:TFS,color:'#111'},l:{fontFamily:'Inter',fontWeight:'bold',fontSize:TFS,color:'#111'}}}});
  titles.push({text:'x10',left:p.un[0],top:p.un[1],textAlign:'center',textVerticalAlign:'middle',padding:0,zlevel:1,textStyle:{fontFamily:FONT,fontWeight:400,fontSize:p.fs+1,color:TXT}});
  titles.push({text:String(p.e),left:p.un[2],top:p.un[3],textAlign:'center',textVerticalAlign:'middle',padding:0,zlevel:1,textStyle:{fontFamily:FONT,fontWeight:400,fontSize:p.fs-4,color:TXT}});
});
[['a',865,2613],['b',2640,2617]].forEach(([s,x,y])=>titles.push({text:'{n|(}{b|'+s+'}{n|)}',left:x,top:y,textAlign:'center',textVerticalAlign:'middle',padding:0,zlevel:1,
  textStyle:{rich:{n:{fontFamily:'Liberation Serif',fontWeight:'normal',fontSize:72,color:'#000'},b:{fontFamily:'Liberation Serif',fontWeight:'bold',fontSize:72,color:'#000'}}}}));

const chart=echarts.init(document.getElementById('c'),null,{renderer:'canvas',width:3487,height:2698,devicePixelRatio:1});

// Display pass: the heatmap layer drawn by the library is resampled smoothly, cell colour -> scale position -> cubic -> colour.
const LUT=(function(){const n=1024,rgb=JET.map(h=>[1,3,5].map(k=>parseInt(h.substr(k,2),16))),o=[];
  for(let i=0;i<n;i++){const t=i/(n-1)*(rgb.length-1),a=Math.min(Math.floor(t),rgb.length-2),f=t-a;o.push(rgb[a].map((v,k)=>v+(rgb[a+1][k]-v)*f));}return o;})();
function invert(r,g,b){let best=0,bd=1e9;for(let i=0;i<LUT.length;i++){const q=LUT[i],e=(q[0]-r)**2+(q[1]-g)**2+(q[2]-b)**2;if(e<bd){bd=e;best=i;}}return best/(LUT.length-1);}
function weights(u,n){const i=Math.floor(u),f=u-i,cl=k=>Math.max(0,Math.min(n-1,k));
  return {i:[cl(i-1),cl(i),cl(i+1),cl(i+2)],w:[(-f*f*f+2*f*f-f)/2,(3*f*f*f-5*f*f+2)/2,(-3*f*f*f+4*f*f+f)/2,(f*f*f-f*f)/2]};}
function smooth(){
  const cv=chart.getDom().querySelectorAll('canvas')[0],ctx=cv.getContext('2d');
  panels.forEach(p=>{
    const [L,T,R,B]=p.box,W=R-L,H=B-T,nc=xCells.length,nr=zCells.length;
    const img=ctx.getImageData(L,T,W,H),d=img.data,vals=[];
    for(let r=0;r<nr;r++){const row=[];for(let c=0;c<nc;c++){const x=Math.floor((c+.5)*W/nc),y=Math.floor((r+.5)*H/nr),k=(y*W+x)*4;row.push(invert(d[k],d[k+1],d[k+2]));}vals.push(row);}
    const wx=[];for(let x=0;x<W;x++)wx.push(weights((x+.5)/W*nc-.5,nc));
    for(let y=0;y<H;y++){const wy=weights((y+.5)/H*nr-.5,nr);
      const line=new Float32Array(nc);
      for(let c=0;c<nc;c++){let s=0;for(let a=0;a<4;a++)s+=wy.w[a]*vals[wy.i[a]][c];line[c]=s;}
      for(let x=0;x<W;x++){const q=wx[x];let t=0;for(let a=0;a<4;a++)t+=q.w[a]*line[q.i[a]];
        t=Math.max(0,Math.min(1,t));const col=LUT[Math.round(t*(LUT.length-1))],k=(y*W+x)*4;d[k]=col[0];d[k+1]=col[1];d[k+2]=col[2];d[k+3]=255;}
    }
    ctx.putImageData(img,L,T);
  });
}
let done=false;
chart.on('finished',()=>{if(done)return;done=true;smooth();});
chart.setOption({animation:false,backgroundColor:'transparent',tooltip:{show:false},title:titles,grid:grids,xAxis:xAxes,yAxis:yAxes,visualMap:vms,series:series});
</script></body></html>
